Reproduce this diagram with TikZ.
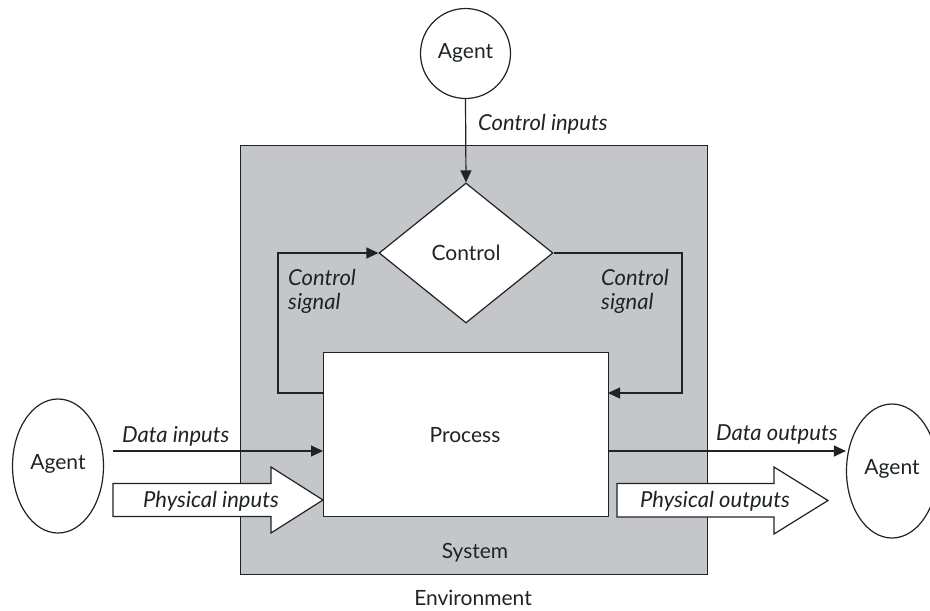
\documentclass[tikz,border=0pt]{standalone}
\usepackage{fontspec}
\setmainfont{Lato}
\usetikzlibrary{arrows.meta,shapes.geometric}
\definecolor{sysgray}{RGB}{197,198,202}
\definecolor{linec}{RGB}{30,36,36}
\tikzset{
  lbl/.style={font=\fontsize{22}{24}\selectfont\itshape, text=linec, inner sep=0pt},
  txt/.style={font=\fontsize{21}{24}\selectfont, text=linec, inner sep=0pt},
  conn/.style={draw=linec, line width=1.2pt},
  arr/.style={conn, -{Triangle[length=12pt,width=11pt]}},
  hollow/.style={draw=linec, fill=white, line width=1.2pt, line join=miter},
}
\begin{document}
\begin{tikzpicture}[x=1pt,y=-1pt]
\useasboundingbox (0,0) rectangle (930,611);
% system
\node[draw=linec, fill=sysgray, line width=1.4pt, minimum width=467pt, minimum height=429pt, inner sep=0pt, anchor=north west] (sys) at (240,145) {};
\node[txt] (systxt) at (475,553) {System};
\node[txt] (env) at (473,598) {Environment};
% agents
\node[draw=linec, line width=1.2pt, circle, minimum size=90pt, inner sep=0pt] (agtop) at (465.5,53.5) {};
\node[txt] at (465.5,53) {Agent};
\node[draw=linec, line width=1.2pt, ellipse, minimum width=91pt, minimum height=134pt, inner sep=0pt] (agleft) at (58,466) {};
\node[txt] at (58,464) {Agent};
\node[draw=linec, line width=1.2pt, ellipse, minimum width=91pt, minimum height=134pt, inner sep=0pt] (agright) at (892,471) {};
\node[txt] at (892,469) {Agent};
% control diamond
\node[draw=linec, fill=white, line width=1.2pt, diamond, minimum width=174pt, minimum height=140pt, inner sep=0pt] (ctrl) at (466,253) {};
\node[txt] at (466,253) {Control};
% process
\node[draw=linec, fill=white, line width=1.2pt, minimum width=285pt, minimum height=164pt, inner sep=0pt, anchor=north west] (proc) at (323,352) {};
\node[txt] at (465,435) {Process};
% control inputs
\draw[arr] (agtop.south) -- (ctrl.north);
\node[lbl, anchor=west] at (478,124) {Control inputs};
% control signal loops
\coordinate (lpA) at (323,393);
\coordinate (rpA) at (608,393);
\draw[arr] (lpA) -- (278,393) -- (278,253) -- (ctrl.west);
\draw[arr] (ctrl.east) -- (682,253) -- (682,393) -- (rpA);
\node[lbl, anchor=west, align=left] at (288,291) {Control\\signal};
\node[lbl, anchor=west, align=left] at (601,291) {Control\\signal};
% data
\coordinate (din) at (113,451);
\coordinate (pin) at (323,451);
\coordinate (pout) at (608,451);
\draw[arr] (din) -- (pin);
\node[lbl, anchor=west] at (122,436) {Data inputs};
\draw[arr] (pout) -- (agright.west |- pout);
\node[lbl, anchor=west] at (716,434) {Data outputs};
% physical arrows
\draw[hollow] (113,483.5) -- (271,483.5) -- (271,467) -- (323,500) -- (271,533) -- (271,516.5) -- (113,516.5) -- cycle;
\node[lbl] at (211,501) {Physical inputs};
\draw[hollow] (617,483.5) -- (774,483.5) -- (774,467) -- (828,500.5) -- (774,534) -- (774,517) -- (617,517) -- cycle;
\node[lbl] at (715,501) {Physical outputs};
\end{tikzpicture}
\end{document}
